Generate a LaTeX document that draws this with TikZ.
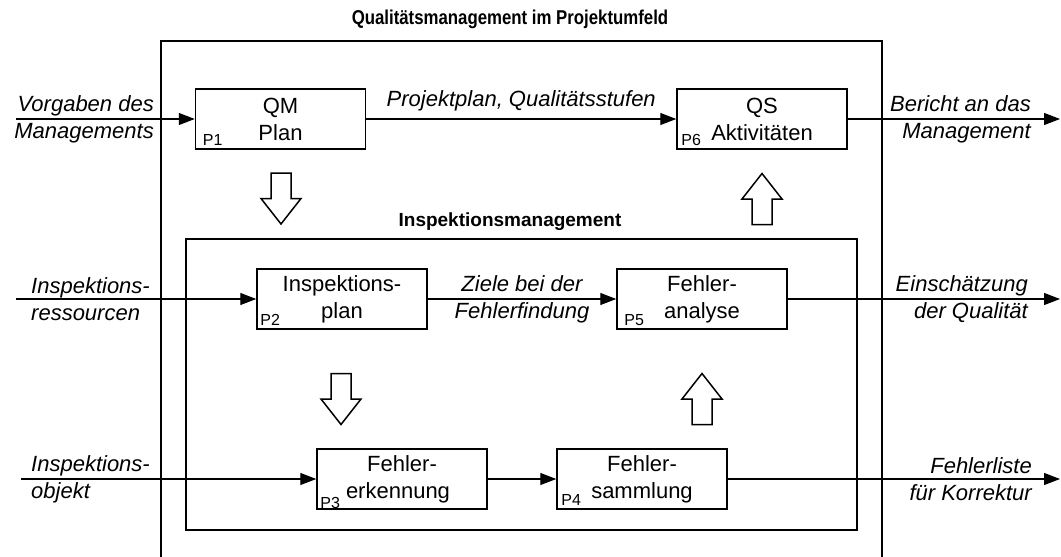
\documentclass[tikz,border=0pt]{standalone}
\usepackage{fontspec}
\setmainfont{Liberation Sans}
\usetikzlibrary{arrows.meta,calc}
\newcommand\lblfont{\fontsize{22}{27}\selectfont}
\newcommand\pnfont{\fontsize{16}{18}\selectfont}
\newcommand\hdfont{\fontsize{20}{24}\selectfont\bfseries}
\newcommand\subhdfont{\fontsize{19}{23}\selectfont\bfseries}
\begin{document}
\begin{tikzpicture}[x=1pt,y=-1pt,
  proc/.style={draw, line width=1.5pt, minimum width=170pt, minimum height=60pt,
    align=center, inner sep=0pt, font=\lblfont},
  plab/.style={anchor=south west, inner sep=0pt, font=\pnfont},
  frame/.style={line width=1.5pt},
  flow/.style={line width=1.2pt, -{Triangle[length=16pt,width=12pt]}},
  flowtxt/.style={inner sep=0pt, font=\lblfont\itshape},
  heading/.style={inner sep=0pt},
  blockdown/.pic={\draw[line width=1.5pt, line join=miter]
    (-10,-25.5) -- (10,-25.5) -- (10,0) -- (20,0) -- (0,25.5) -- (-20,0) -- (-10,0) -- cycle;},
  blockup/.pic={\draw[line width=1.5pt, line join=miter]
    (-10,25.5) -- (10,25.5) -- (10,0) -- (20,0) -- (0,-25.5) -- (-20,0) -- (-10,0) -- cycle;}
]
\useasboundingbox (0,0) rectangle (1061,557);

% outer frame, open at the bottom
\draw[frame] (161,557) -- (161,41) -- (882,41) -- (882,557);
\node[heading, font=\hdfont] (t1) at (510,19) {\scalebox{0.84}[1]{Qualitätsmanagement im Projektumfeld}};

% inner frame
\draw[frame] (186,239) rectangle (857,530);
\node[heading, font=\subhdfont] (t2) at (510,222) {Inspektionsmanagement};

% process boxes
\node[proc] (p1) at (280.5,119) {QM\\Plan};
\node[proc] (p6) at (762,119) {QS\\Aktivitäten};
\node[proc] (p2) at (342,299) {Inspektions-\\plan};
\node[proc] (p5) at (702,299) {Fehler-\\analyse};
\node[proc] (p3) at (402,479) {Fehler-\\\hspace*{-8pt}erkennung};
\node[proc] (p4) at (642,479) {Fehler-\\sammlung};

\node[plab] (l1) at ($(p1.south west)+(8,-4)$) {P1};
\node[plab] (l6) at ($(p6.south west)+(5,-4)$) {P6};
\node[plab] (l2) at ($(p2.south west)+(4,-4)$) {P2};
\node[plab] (l5) at ($(p5.south west)+(8,-4)$) {P5};
\node[plab] (l3) at ($(p3.south west)+(4,-1)$) {P3};
\node[plab] (l4) at ($(p4.south west)+(5,-4)$) {P4};

% block arrows between levels
\pic at (281,198.5) {blockdown};
\pic at (762,199) {blockup};
\pic at (341,399) {blockdown};
\pic at (702,399) {blockup};

% free ends of the external flows
\coordinate (i1) at (16,119);
\coordinate (i2) at (16,299);
\coordinate (i3) at (21,479);
\coordinate (o1) at (1060,119);
\coordinate (o2) at (1060,299);
\coordinate (o3) at (1060,479);

% flows
\draw[flow] (i1) -- (p1.west);
\draw[flow] (p1.east) -- node[flowtxt, above=7pt] (f16) {Projektplan, Qualitätsstufen} (p6.west);
\draw[flow] (p6.east) -- (o1);

\draw[flow] (i2) -- (p2.west);
\draw[flow] (p2.east) -- node[flowtxt, align=center] (f25) {Ziele bei der\\Fehlerfindung} (p5.west);
\draw[flow] (p5.east) -- (o2);

\draw[flow] (i3) -- (p3.west);
\draw[flow] (p3.east) -- (p4.west);
\draw[flow] (p4.east) -- (o3);

% texts of the external flows
\node[flowtxt, align=right, anchor=east] (v1) at (154,119) {Vorgaben des\\Managements};
\node[flowtxt, align=left, anchor=west] (v2) at (31,299) {Inspektions-\\ressourcen};
\node[flowtxt, align=left, anchor=west] (v3) at (31,479) {Inspektions-\\objekt};
\node[flowtxt, align=right, anchor=east] (w1) at (1031,119) {Bericht an das\\Management};
\node[flowtxt, align=right, anchor=east] (w2) at (1028,299) {Einschätzung\\der Qualität};
\node[flowtxt, align=right, anchor=east] (w3) at (1032,479) {Fehlerliste\\für Korrektur};
\end{tikzpicture}
\end{document}
